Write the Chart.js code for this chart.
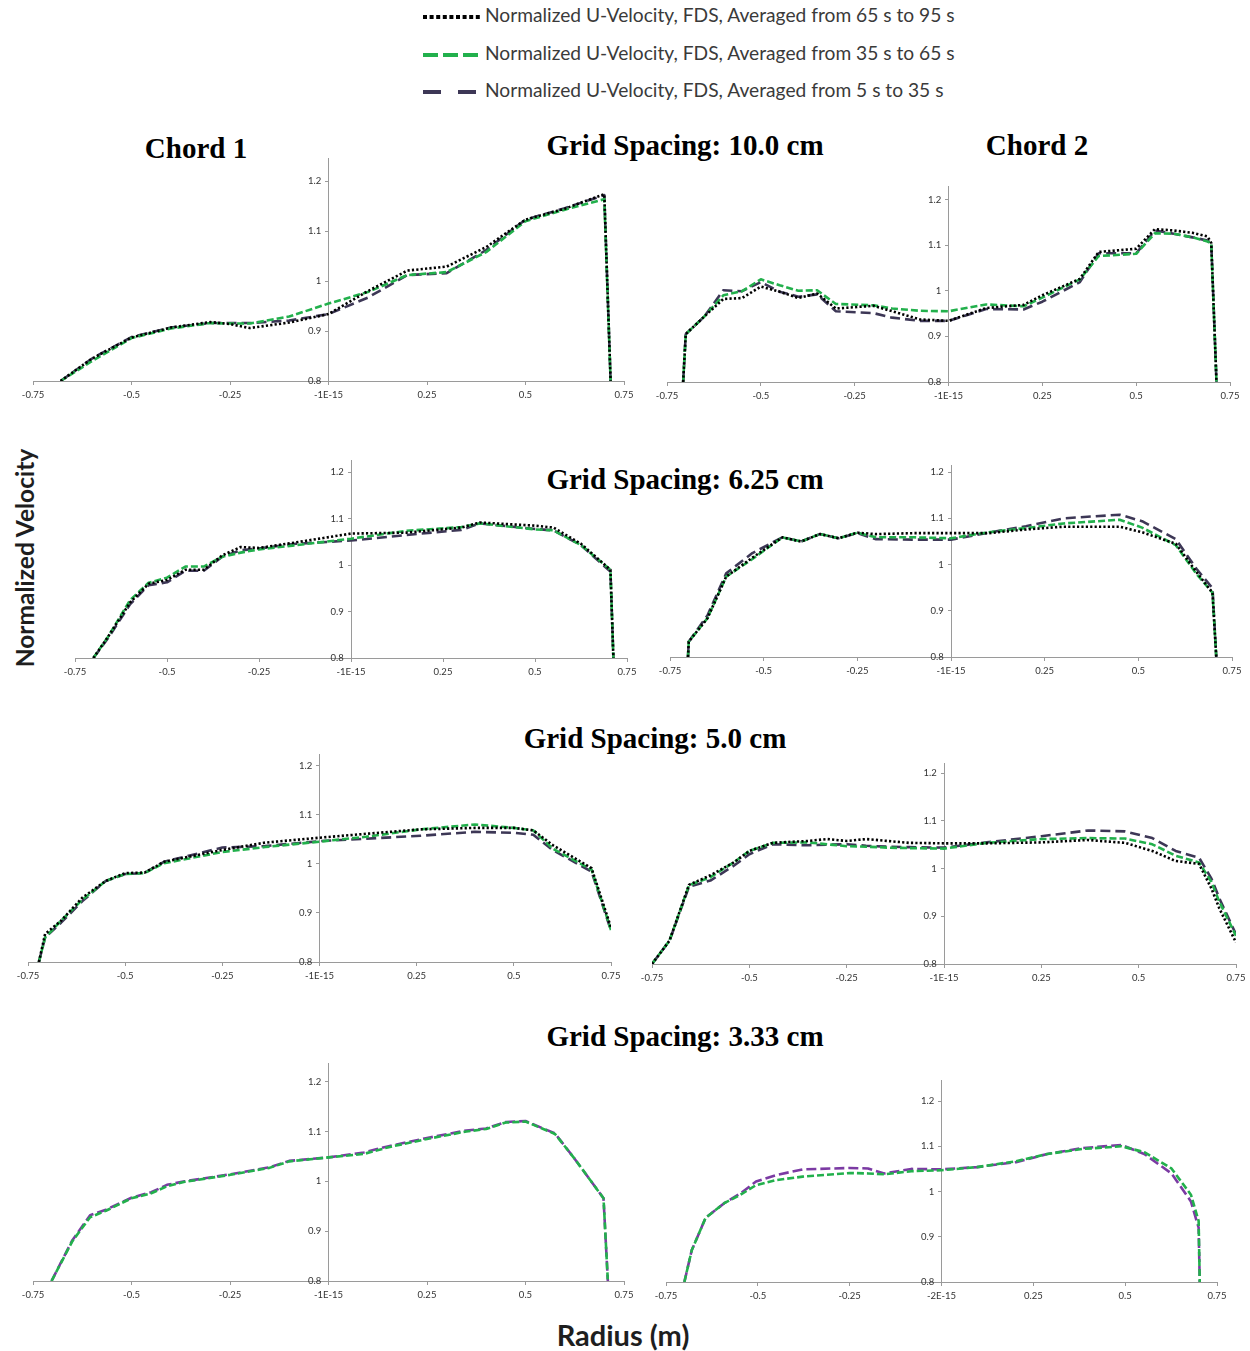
<!DOCTYPE html>
<html><head><meta charset="utf-8">
<script src="https://cdn.jsdelivr.net/npm/chart.js@4"></script>
<style>
body{margin:0;width:1250px;height:1351px;position:relative;background:#fff;overflow:hidden}
.wrap{position:absolute}
.t{position:absolute;font-family:"Liberation Serif","Times New Roman",serif;font-weight:bold;font-size:29px;white-space:nowrap;transform:translate(-50%,-50%);color:#000}
.lg{position:absolute;left:421px;font-family:Lato,"Open Sans",sans-serif;font-size:19.2px;color:#3a3a3a;white-space:nowrap;height:24px;line-height:24px}
.lg svg{vertical-align:middle;margin-right:4px}
.ax{position:absolute;font-family:Lato,"Open Sans",sans-serif;font-weight:bold;color:#1e1e1e;white-space:nowrap;transform:translate(-50%,-50%)}
</style></head><body>

<div class="lg" style="top:3px"><svg width="60" height="8"><line x1="2" y1="4" x2="60" y2="4" stroke="#000" stroke-width="4" stroke-dasharray="4,2.6"/></svg><span id="l0"></span></div>
<div class="lg" style="top:41px"><svg width="60" height="8"><line x1="2" y1="4" x2="60" y2="4" stroke="#22b04c" stroke-width="4" stroke-dasharray="15,5"/></svg><span id="l1"></span></div>
<div class="lg" style="top:78px"><svg width="60" height="8"><line x1="2" y1="4" x2="60" y2="4" stroke="#3d3756" stroke-width="4" stroke-dasharray="18,17"/></svg><span id="l2"></span></div>

<div id="titles"></div>
<div class="ax" style="left:24px;top:558px;font-size:24.5px;transform:translate(-50%,-50%) rotate(-90deg)">Normalized Velocity</div>
<div class="ax" style="left:623px;top:1334px;font-size:29px">Radius (m)</div>

<script>
// ---------- tick labels & names ----------
const xTickValues = [-0.75, -0.5, -0.25, 0, 0.25, 0.5, 0.75];
const xTickLabels = ['-0.75', '-0.5', '-0.25', '-1E-15', '0.25', '0.5', '0.75'];
const xTickLabelsAlt = ['-0.75', '-0.5', '-0.25', '-2E-15', '0.25', '0.5', '0.75'];
const yTickValues = [0.8, 0.9, 1, 1.1, 1.2];
const yTickLabels = ['0.8', '0.9', '1', '1.1', '1.2'];
const seriesNames = [
  'Normalized U-Velocity,  FDS, Averaged from 65 s to 95 s',
  'Normalized U-Velocity,  FDS, Averaged from 35 s to 65 s',
  'Normalized U-Velocity,  FDS, Averaged from 5 s to 35 s'
];
const titleTexts = ['Chord 1', 'Grid Spacing: 10.0 cm', 'Chord 2', 'Grid Spacing: 6.25 cm', 'Grid Spacing: 5.0 cm', 'Grid Spacing: 3.33 cm'];

// ---------- Grid 10.0 cm, Chord 1 ----------
const g10c1_r    = [-0.68, -0.6, -0.5, -0.4, -0.3, -0.25, -0.2, -0.1, 0, 0.1, 0.2, 0.3, 0.4, 0.5, 0.6, 0.7, 0.716];
const g10c1_late = [0.80, 0.845, 0.887, 0.907, 0.918, 0.914, 0.906, 0.917, 0.934, 0.980, 1.021, 1.029, 1.068, 1.123, 1.145, 1.174, 0.80];
const g10c1_mid  = [0.80, 0.840, 0.886, 0.905, 0.916, 0.915, 0.915, 0.929, 0.955, 0.978, 1.012, 1.018, 1.058, 1.120, 1.143, 1.164, 0.80];
const g10c1_early= [0.80, 0.845, 0.888, 0.907, 0.916, 0.916, 0.916, 0.921, 0.934, 0.967, 1.012, 1.016, 1.062, 1.123, 1.146, 1.172, 0.80];

// ---------- Grid 10.0 cm, Chord 2 ----------
const g10c2_r    = [-0.707, -0.70, -0.65, -0.6, -0.55, -0.5, -0.45, -0.4, -0.35, -0.3, -0.2, -0.15, -0.075, 0, 0.1, 0.2, 0.25, 0.35, 0.4, 0.5, 0.55, 0.6, 0.65, 0.69, 0.70, 0.714];
const g10c2_late = [0.80, 0.905, 0.944, 0.982, 0.984, 1.009, 0.998, 0.984, 0.994, 0.961, 0.967, 0.955, 0.937, 0.934, 0.962, 0.969, 0.990, 1.026, 1.085, 1.092, 1.135, 1.132, 1.127, 1.119, 1.105, 0.80];
const g10c2_mid  = [0.80, 0.905, 0.944, 0.990, 0.999, 1.025, 1.012, 1.000, 1.001, 0.971, 0.968, 0.961, 0.956, 0.955, 0.970, 0.966, 0.985, 1.025, 1.076, 1.081, 1.126, 1.125, 1.117, 1.108, 1.104, 0.80];
const g10c2_early= [0.80, 0.905, 0.944, 1.001, 0.999, 1.019, 0.998, 0.987, 0.992, 0.955, 0.951, 0.941, 0.934, 0.934, 0.960, 0.959, 0.976, 1.019, 1.082, 1.082, 1.132, 1.125, 1.117, 1.110, 1.107, 0.80];

// ---------- Grid 6.25 cm, Chord 1 ----------
const g625c1_r    = [-0.70, -0.66, -0.6, -0.55, -0.5, -0.45, -0.4, -0.35, -0.3, -0.25, -0.15, 0, 0.15, 0.3, 0.35, 0.5, 0.55, 0.625, 0.705, 0.713];
const g625c1_late = [0.80, 0.846, 0.920, 0.960, 0.968, 0.990, 0.990, 1.021, 1.039, 1.037, 1.049, 1.068, 1.070, 1.081, 1.092, 1.085, 1.081, 1.046, 0.990, 0.80];
const g625c1_mid  = [0.80, 0.846, 0.925, 0.962, 0.973, 0.997, 0.997, 1.018, 1.027, 1.034, 1.043, 1.057, 1.074, 1.082, 1.090, 1.077, 1.075, 1.043, 0.990, 0.80];
const g625c1_early= [0.80, 0.843, 0.916, 0.957, 0.963, 0.988, 0.988, 1.018, 1.032, 1.036, 1.046, 1.053, 1.065, 1.076, 1.090, 1.078, 1.075, 1.043, 0.986, 0.80];

// ---------- Grid 6.25 cm, Chord 2 ----------
const g625c2_r    = [-0.702, -0.70, -0.65, -0.6, -0.53, -0.45, -0.4, -0.35, -0.3, -0.25, -0.2, -0.1, 0, 0.1, 0.2, 0.3, 0.45, 0.51, 0.6, 0.655, 0.698, 0.708];
const g625c2_late = [0.80, 0.833, 0.884, 0.974, 1.015, 1.059, 1.050, 1.066, 1.057, 1.069, 1.066, 1.068, 1.068, 1.068, 1.076, 1.082, 1.082, 1.070, 1.045, 0.984, 0.939, 0.80];
const g625c2_mid  = [0.80, 0.833, 0.884, 0.974, 1.012, 1.059, 1.050, 1.066, 1.057, 1.069, 1.059, 1.059, 1.057, 1.070, 1.079, 1.089, 1.097, 1.080, 1.042, 0.980, 0.939, 0.80];
const g625c2_early= [0.80, 0.833, 0.890, 0.981, 1.025, 1.059, 1.050, 1.066, 1.057, 1.068, 1.055, 1.054, 1.054, 1.069, 1.083, 1.100, 1.108, 1.094, 1.055, 0.991, 0.949, 0.80];

// ---------- Grid 5.0 cm, Chord 1 ----------
const g5c1_r    = [-0.722, -0.706, -0.665, -0.61, -0.55, -0.5, -0.45, -0.4, -0.25, -0.14, 0, 0.12, 0.26, 0.4, 0.5, 0.55, 0.6, 0.7, 0.75];
const g5c1_late = [0.80, 0.857, 0.884, 0.931, 0.965, 0.981, 0.982, 1.004, 1.028, 1.043, 1.053, 1.061, 1.070, 1.073, 1.073, 1.068, 1.038, 0.991, 0.870];
const g5c1_mid  = [0.80, 0.850, 0.884, 0.927, 0.965, 0.979, 0.981, 1.001, 1.024, 1.034, 1.045, 1.055, 1.070, 1.080, 1.073, 1.068, 1.031, 0.988, 0.865];
const g5c1_early= [0.80, 0.850, 0.880, 0.924, 0.965, 0.979, 0.981, 1.004, 1.033, 1.036, 1.046, 1.051, 1.057, 1.065, 1.063, 1.059, 1.028, 0.984, 0.864];

// ---------- Grid 5.0 cm, Chord 2 ----------
const g5c2_r    = [-0.75, -0.705, -0.655, -0.6, -0.54, -0.5, -0.44, -0.35, -0.3, -0.25, -0.2, -0.145, -0.09, 0, 0.11, 0.25, 0.37, 0.465, 0.535, 0.595, 0.655, 0.687, 0.707, 0.75];
const g5c2_late = [0.80, 0.849, 0.966, 0.986, 1.013, 1.037, 1.054, 1.058, 1.062, 1.058, 1.062, 1.058, 1.054, 1.053, 1.053, 1.055, 1.060, 1.054, 1.037, 1.016, 1.010, 0.958, 0.917, 0.845];
const g5c2_mid  = [0.80, 0.849, 0.965, 0.982, 1.013, 1.037, 1.054, 1.055, 1.051, 1.047, 1.046, 1.044, 1.043, 1.042, 1.054, 1.062, 1.064, 1.063, 1.051, 1.027, 1.013, 0.972, 0.931, 0.859];
const g5c2_early= [0.80, 0.849, 0.962, 0.975, 1.006, 1.030, 1.051, 1.049, 1.050, 1.051, 1.048, 1.046, 1.045, 1.044, 1.055, 1.068, 1.080, 1.078, 1.064, 1.037, 1.023, 0.979, 0.938, 0.862];

// ---------- Grid 3.33 cm, Chord 1 ----------
const g333c1_r    = [-0.703, -0.65, -0.605, -0.565, -0.5, -0.45, -0.41, -0.365, -0.25, -0.15, -0.1, 0, 0.09, 0.15, 0.25, 0.35, 0.4, 0.45, 0.5, 0.575, 0.625, 0.698, 0.709];
const g333c1_mid  = [0.80, 0.880, 0.928, 0.941, 0.966, 0.976, 0.990, 0.999, 1.013, 1.027, 1.040, 1.048, 1.055, 1.068, 1.085, 1.100, 1.105, 1.118, 1.120, 1.095, 1.045, 0.966, 0.80];
const g333c1_early= [0.80, 0.882, 0.932, 0.943, 0.967, 0.978, 0.993, 1.000, 1.014, 1.028, 1.041, 1.048, 1.058, 1.070, 1.087, 1.102, 1.106, 1.119, 1.121, 1.096, 1.045, 0.966, 0.80];

// ---------- Grid 3.33 cm, Chord 2 ----------
const g333c2_r    = [-0.70, -0.68, -0.642, -0.59, -0.547, -0.505, -0.452, -0.378, -0.25, -0.2, -0.156, -0.082, 0, 0.097, 0.203, 0.288, 0.383, 0.49, 0.552, 0.626, 0.679, 0.70, 0.703];
const g333c2_mid  = [0.80, 0.870, 0.942, 0.975, 0.993, 1.014, 1.025, 1.033, 1.041, 1.040, 1.038, 1.045, 1.047, 1.054, 1.067, 1.083, 1.094, 1.100, 1.087, 1.051, 0.993, 0.935, 0.80];
const g333c2_early= [0.80, 0.870, 0.942, 0.975, 0.996, 1.022, 1.036, 1.049, 1.052, 1.051, 1.040, 1.050, 1.049, 1.054, 1.065, 1.083, 1.096, 1.103, 1.083, 1.040, 0.978, 0.920, 0.80];

// ---------- styles & layout ----------
const STYLE = {
  late:  {borderColor:'#000000', borderDash:[2.2,2.2], borderWidth:2.6},
  mid:   {borderColor:'#22b04c', borderDash:[7,3], borderWidth:2.6},
  early: {borderColor:'#3d3756', borderDash:[10,5], borderWidth:2.6},
  purple:{borderColor:'#7b3aa3', borderDash:[10,4], borderWidth:2.6}
};
const panels = [
  {left:33,  right:624,  top:155,  bottom:381,  ymax:1.245, r:g10c1_r,  s:[['late',g10c1_late],['mid',g10c1_mid],['early',g10c1_early]], xl:xTickLabels},
  {left:667, right:1230, top:183,  bottom:382,  ymax:1.228, r:g10c2_r,  s:[['late',g10c2_late],['mid',g10c2_mid],['early',g10c2_early]], xl:xTickLabels},
  {left:75,  right:627,  top:457,  bottom:658,  ymax:1.225, r:g625c1_r, s:[['late',g625c1_late],['mid',g625c1_mid],['early',g625c1_early]], xl:xTickLabels},
  {left:670, right:1232, top:462,  bottom:657,  ymax:1.214, r:g625c2_r, s:[['late',g625c2_late],['mid',g625c2_mid],['early',g625c2_early]], xl:xTickLabels},
  {left:28,  right:611,  top:751,  bottom:962,  ymax:1.222, r:g5c1_r,   s:[['late',g5c1_late],['mid',g5c1_mid],['early',g5c1_early]], xl:xTickLabels},
  {left:652, right:1236, top:760,  bottom:964,  ymax:1.220, r:g5c2_r,   s:[['late',g5c2_late],['mid',g5c2_mid],['early',g5c2_early]], xl:xTickLabels},
  {left:33,  right:624,  top:1060, bottom:1281, ymax:1.236, r:g333c1_r, s:[['mid',g333c1_mid],['purple',g333c1_early]], xl:xTickLabels},
  {left:666, right:1217, top:1077, bottom:1282, ymax:1.245, r:g333c2_r, s:[['mid',g333c2_mid],['purple',g333c2_early]], xl:xTickLabelsAlt}
];
const titlePos = [[196,148],[685,145],[1037,145],[685,479],[655,738],[685,1036]];

document.getElementById('l0').textContent = seriesNames[0];
document.getElementById('l1').textContent = seriesNames[1];
document.getElementById('l2').textContent = seriesNames[2];
const tdiv = document.getElementById('titles');
titleTexts.forEach((t,i)=>{
  const d=document.createElement('div'); d.className='t'; d.textContent=t;
  d.style.left=titlePos[i][0]+'px'; d.style.top=titlePos[i][1]+'px'; tdiv.appendChild(d);
});

const PL=22, PR=22, PT=4, PB=28;
const AXC = '#9a9a9a';
function lookup(vals, labels, v){
  for(let i=0;i<vals.length;i++) if(Math.abs(vals[i]-v)<1e-9) return labels[i];
  return '';
}
panels.forEach(p=>{
  const w = p.right-p.left+PL+PR, h = p.bottom-p.top+PT+PB;
  const div=document.createElement('div'); div.className='wrap';
  div.style.left=(p.left-PL)+'px'; div.style.top=(p.top-PT)+'px';
  div.style.width=w+'px'; div.style.height=h+'px';
  const cv=document.createElement('canvas'); cv.width=w; cv.height=h;
  div.appendChild(cv); document.body.appendChild(div);
  const datasets = p.s.map(([key,vals])=>Object.assign({
    data: p.r.map((x,i)=>({x:x,y:vals[i]})),
    pointRadius:0, tension:0, fill:false, borderCapStyle:'butt', borderJoinStyle:'round'
  }, STYLE[key]));
  new Chart(cv,{
    type:'line',
    data:{datasets},
    options:{
      responsive:false, animation:false, devicePixelRatio:1,
      layout:{padding:{left:PL,right:PR,top:PT,bottom:PB}},
      plugins:{legend:{display:false},tooltip:{enabled:false}},
      scales:{
        x:{type:'linear',min:-0.75,max:0.75,position:{y:0.8},
          afterBuildTicks:s=>{s.ticks=xTickValues.map(v=>({value:v}));},
          ticks:{autoSkip:false,maxRotation:0,padding:5,color:'#333',font:{family:'Lato',size:9.5},
            callback:v=>lookup(xTickValues,p.xl,v)},
          grid:{display:true,drawOnChartArea:false,drawTicks:true,tickLength:3,color:AXC},
          border:{display:true,color:AXC,width:1}},
        y:{type:'linear',min:0.8,max:p.ymax,position:{x:0},
          afterBuildTicks:s=>{s.ticks=yTickValues.map(v=>({value:v}));},
          ticks:{autoSkip:false,padding:2,color:'#333',font:{family:'Lato',size:9.5},
            callback:v=>lookup(yTickValues,yTickLabels,v)+'\u2003'},
          grid:{display:true,drawOnChartArea:false,drawTicks:true,tickLength:3,color:AXC},
          border:{display:true,color:AXC,width:1}}
      }
    }
  });
});
</script>
</body></html>
